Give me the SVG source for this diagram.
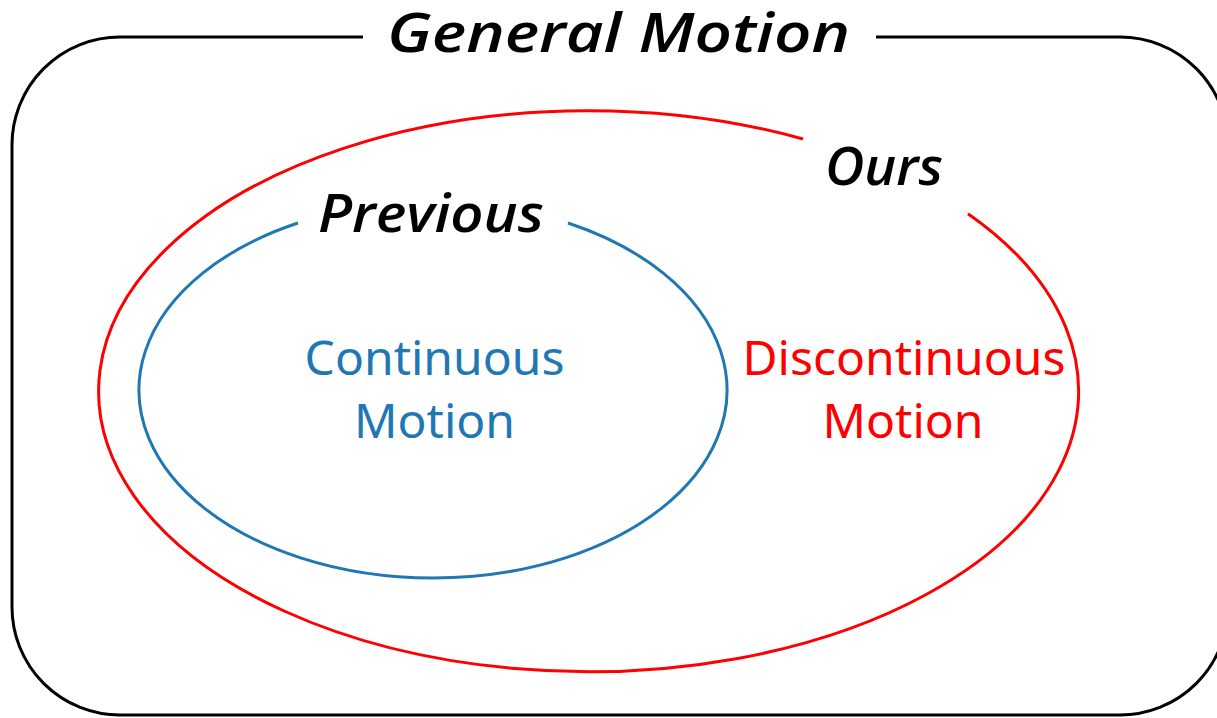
<svg xmlns="http://www.w3.org/2000/svg" width="1217" height="718" viewBox="0 0 1217 718">
  <style>
    .hand { font-family: "Open Sans", "DejaVu Sans", sans-serif; font-style: italic; font-weight: 600; fill: #000; }
    .inner { font-family: "Noto Sans", "DejaVu Sans", sans-serif; font-size: 48px; text-anchor: middle; }
    .outline { fill: none; stroke-width: 3; }
  </style>
  <rect width="1217" height="718" fill="#ffffff"/>
  <g id="connectors"></g>
  <g id="general-motion">
    <path class="outline" stroke="#000000" d="M 363 37 H 120 A 108 108 0 0 0 12 145 V 607 A 108 108 0 0 0 120 715 H 1120 A 108 108 0 0 0 1228 607 V 145 A 108 108 0 0 0 1120 37 H 876"/>
    <text class="hand" x="387" y="52" font-size="54" textLength="463" lengthAdjust="spacingAndGlyphs">General Motion</text>
  </g>
  <g id="ours">
    <path class="outline" stroke="#ff0000" d="M 803 139 A 490 280.5 0 1 0 968 213.7"/>
    <text class="hand" x="825" y="185" font-size="52" textLength="118" lengthAdjust="spacingAndGlyphs">Ours</text>
    <text class="inner" fill="#ff0000" x="904" y="375">Discontinuous</text>
    <text class="inner" fill="#ff0000" x="903" y="438">Motion</text>
  </g>
  <g id="previous">
    <path class="outline" stroke="#1f77b4" d="M 298 223 A 294 188 0 1 0 568 223"/>
    <text class="hand" x="318" y="232" font-size="52" textLength="226" lengthAdjust="spacingAndGlyphs">Previous</text>
    <text class="inner" fill="#1f77b4" x="434.5" y="375">Continuous</text>
    <text class="inner" fill="#1f77b4" x="434.5" y="438">Motion</text>
  </g>
</svg>
